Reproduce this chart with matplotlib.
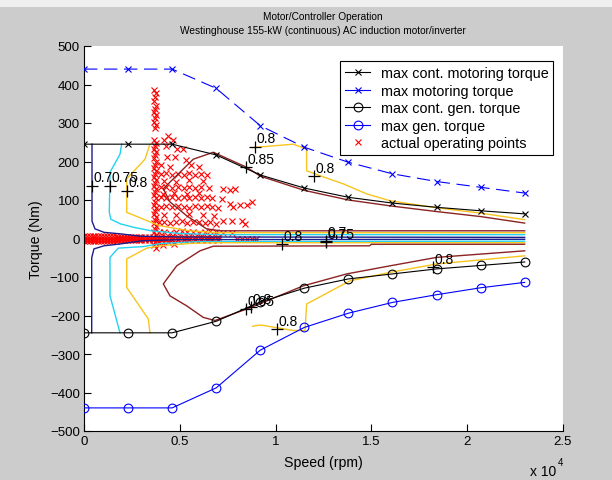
import matplotlib
matplotlib.use("Agg")
import matplotlib.pyplot as plt
from matplotlib.lines import Line2D
from matplotlib.patches import Rectangle

plt.rcParams["font.family"] = ["Liberation Sans", "DejaVu Sans"]

# envelope curves (speed in rpm, torque in Nm)
speed = [0, 2300, 4600, 6900, 9200, 11500, 13800, 16100, 18400, 20700, 23000]
max_cont_motor = [245, 245, 245, 217, 165, 131, 107, 92, 81, 72, 64]
max_motor = [440, 440, 440, 390, 293, 237, 198, 168, 148, 133, 118]
max_cont_gen = [-245, -245, -245, -215, -165, -129, -105, -92, -79, -70, -61]
max_gen = [-440, -440, -440, -388, -290, -231, -194, -166, -146, -128, -114]

# operating points: vertical column near 3700 rpm
col_speed = [3650, 3750, 3700, 3650, 3750, 3700, 3650, 3750, 3700, 3650, 3750, 3700,
             3650, 3750, 3700, 3650, 3750, 3700, 3650, 3750, 3700, 3650, 3750, 3700,
             3650, 3750, 3700, 3650, 3750, 3700, 3650, 3750, 3700, 3650, 3750, 3700,
             3650, 3750, 3700, 3650, 3750, 3700, 3650, 3750, 3700, 3650, 3750]
col_torque = [385, 377, 368, 358, 345, 337, 328, 320, 312, 303, 295, 287,
              256, 248, 240, 232, 224, 216, 208, 200, 192, 184, 176, 168,
              160, 152, 144, 136, 128, 120, 112, 104, 96, 88, 80, 72,
              64, 56, 48, 40, 32, 24, 16, 8, -8, -16, -24]

# operating points: scattered cloud
cloud_speed = [4400, 4150, 4650, 4840, 5180, 4300, 4310, 4750, 5300,
               4000, 4500, 5600, 6000,
               4000, 4300, 4600, 4900, 5200, 5500, 5800, 6100, 6400,
               4200, 4800, 5500, 6200,
               4000, 4300, 4600, 4900, 5200, 5500, 5800, 6100, 6500, 7270, 7600, 7880,
               4100, 4700, 5400, 6000,
               4000, 4300, 4600, 4900, 5200, 5500, 5800, 6100, 6400, 6700, 7190,
               4000, 4300, 4600, 4900, 5200, 5500, 5800, 6100, 6400, 6700, 7000,
               7620, 7780, 8140, 8490, 8750,
               4200, 4800, 5500, 6200, 6800,
               3900, 4200, 4500, 4800, 5100, 5400, 5700, 6000, 6300, 6600, 6900,
               7270, 7710, 8230, 8400,
               3900, 4200, 4500, 4800, 5100, 5400, 5700, 6000, 6300, 6600, 6900,
               7270, 7700,
               8000, 8250, 8500, 8750, 9000,
               3900, 4100, 4400, 4700]
cloud_torque = [267, 255, 255, 232, 232, 240, 211, 211, 205,
                190, 185, 190, 185,
                167, 170, 165, 168, 165, 170, 165, 168, 165,
                150, 148, 152, 150,
                133, 135, 130, 133, 130, 135, 130, 133, 130, 128, 126, 128,
                115, 118, 115, 118,
                107, 105, 108, 105, 107, 104, 107, 105, 108, 104, 103,
                83, 85, 82, 85, 83, 80, 84, 82, 85, 83, 80,
                90, 82, 86, 86, 94,
                62, 60, 63, 60, 58,
                42, 44, 40, 42, 45, 40, 42, 44, 40, 42, 38,
                46, 46, 46, 38,
                17, 18, 15, 17, 19, 16, 18, 15, 17, 19, 16,
                15, 13,
                -2, -1, -2, -1, -2,
                -12, -18, -10, -15]

# operating points: band around zero torque
band_speed = [0, 150, 300, 450, 600, 750, 900, 1050, 1200, 1350, 1500, 1650,
              1800, 1950, 2100, 2250, 2400, 2550, 2700, 2850, 3000, 3200,
              3400, 3600, 3800, 4000, 4300, 4600, 4900, 5200, 5500, 5800,
              6100, 6400, 6700, 7000]
band_torque_hi = [7, 7, 7, 7, 7, 7, 6, 6, 6, 6, 6, 6,
                  5, 5, 5, 5, 5, 5, 5, 5, 5, 5,
                  5, 5, 4, 4, 4, 4, 4, 3, 3, 3,
                  3, 3, 3, 3]
band_torque_mid = [0, 0, 0, 0, 0, 0, 0, 0, 0, 0, 0, 0,
                   0, 0, 0, 0, 0, 0, 0, 0, 0, 0,
                   0, 0, 0, 0, 0, 0, 0, 0, 0, 0,
                   0, 0, 0, 0]
band_torque_lo = [-7, -7, -7, -7, -7, -7, -6, -6, -6, -6, -6, -6,
                  -5, -5, -5, -5, -5, -5, -5, -5, -5, -5,
                  -5, -5, -4, -4, -4, -4, -4, -3, -3, -3,
                  -3, -3, -3, -3]

# efficiency contour lines (speed, torque) and their levels
contours = [
    (0.70, [418, 418, 574, 1044, 1915, 2920, 5000, 23000],
           [245, 45, 25, 16, 12, 6, 4, 3]),
    (0.70, [402, 402, 520, 1040, 1915, 3000, 5000, 23000],
           [-245, -50, -27, -19, -14, -6, -3, -2]),
    (0.75, [1967, 1879, 1357, 1320, 1400, 1900, 2600, 3500, 5000, 7000, 23000],
           [245, 219, 172, 68, 50, 38, 29, 20, 13, 10, 10]),
    (0.75, [1879, 1357, 1357, 1790, 3095, 4000, 6000, 23000],
           [-245, -149, -49, -25, -21, -13, -8, -7]),
    (0.80, [3444, 3184, 2228, 2228, 3705, 3966, 5500, 7000, 23000],
           [245, 206, 155, 68, 38, 33, 20, 15, 15]),
    (0.80, [3444, 3357, 2228, 2228, 3272, 3966, 5500, 7000, 23000],
           [-245, -209, -127, -53, -25, -19, -13, -11, -11]),
    (0.80, [8800, 9013, 10925, 11620, 11620, 12320, 13530, 14750, 15970, 18230, 20670, 23000],
           [236, 237, 245, 232, 176, 163, 142, 116, 98, 81, 66, 49]),
    (0.80, [8800, 9013, 9274, 10925, 11535, 11620, 13880, 15970, 18410, 23000],
           [-228, -226, -225, -239, -239, -170, -110, -88, -66, -45]),
    (0.85, [23000, 20700, 18400, 16100, 13800, 11500, 9200, 8490, 6748, 5705,
            4661, 4139, 4488, 5360, 6400, 7100, 23000],
           [40, 57, 70, 84, 100, 125, 162, 185, 224, 206,
            155, 129, 95, 59, 25, 20, 20]),
    (0.85, [23000, 18410, 15970, 13710, 11445, 8664, 6837, 6226, 5360, 4488,
            4139, 4838, 6054, 6748, 14900, 15000, 23000],
           [-32, -49, -71, -92, -123, -180, -213, -205, -175, -149,
            -118, -71, -32, -20, -19, -15, -15]),
]
level_colors = {0.70: "#1c1c8c", 0.75: "#22d2f2", 0.80: "#f7c51e", 0.85: "#8c2222"}

# contour labels: text, speed, torque
labels = [("0.7", 418, 137), ("0.75", 1357, 137), ("0.8", 2228, 124),
          ("0.8", 8925, 238), ("0.85", 8440, 186), ("0.8", 12000, 162),
          ("0.8", 10317, -14), ("0.7", 12630, -6), ("0.75", 12630, -9),
          ("0.85", 8440, -183), ("0.8", 8700, -178), ("0.8", 10057, -235),
          ("0.8", 18200, -75)]

xticks = [0, 5000, 10000, 15000, 20000, 25000]
xtick_labels = ["0", "0.5", "1", "1.5", "2", "2.5"]
yticks = [-500, -400, -300, -200, -100, 0, 100, 200, 300, 400, 500]

W, H = 612, 481
fig = plt.figure(figsize=(W / 100, H / 100), dpi=100, facecolor="#cccccc")
fig.patches.append(Rectangle((0, 1 - 8 / H), 1, 8 / H, transform=fig.transFigure,
                             facecolor="#f0f0f0", edgecolor="none"))
ax = fig.add_axes([84 / W, 1 - 432 / H, (563 - 84) / W, (432 - 47) / H])

opt = dict(ls="none", marker="x", color="red", ms=5, mew=0.8, zorder=2)
ax.plot(col_speed, col_torque, **opt)
ax.plot(cloud_speed, cloud_torque, **opt)
ax.plot(band_speed, band_torque_hi, **opt)
ax.plot(band_speed, band_torque_mid, **opt)
ax.plot(band_speed, band_torque_lo, **opt)

for lev, xs, ys in contours:
    ax.plot(xs, ys, color=level_colors[lev], lw=1.0, zorder=3)

for txt, x, y in labels:
    ax.plot(x, y, marker="+", color="black", ms=8, mew=0.9, zorder=5)
    ax.annotate(txt, (x, y), xytext=(1, 1), textcoords="offset points",
                ha="left", va="bottom", fontsize=10, zorder=5)

ax.plot(speed, max_cont_motor, color="black", lw=0.8, marker="x", ms=4.5, mew=0.8, zorder=4)
ax.plot(speed, max_motor, color="blue", lw=0.8, marker="x", ms=4.5, mew=0.8,
        dashes=(12, 6), zorder=4)
ax.plot(speed, max_cont_gen, color="black", lw=0.8, marker="o", ms=6.3, mew=0.8,
        mfc="none", zorder=4)
ax.plot(speed, max_gen, color="blue", lw=0.8, marker="o", ms=6.3, mew=0.8,
        mfc="none", zorder=4)

ax.set_xlim(0, 25000)
ax.set_ylim(-500, 500)
ax.set_xticks(xticks)
ax.set_xticklabels(xtick_labels)
ax.set_yticks(yticks)
for s in ["top", "right"]:
    ax.spines[s].set_visible(False)
for s in ["left", "bottom"]:
    ax.spines[s].set_linewidth(0.8)
ax.tick_params(direction="in", length=5, width=0.8, labelsize=9.5, pad=3)

handles = [
    Line2D([], [], color="black", lw=0.8, marker="x", ms=4.5, mew=0.8),
    Line2D([], [], color="blue", lw=0.8, marker="x", ms=4.5, mew=0.8),
    Line2D([], [], color="black", lw=0.8, marker="o", ms=6.3, mew=0.8, mfc="none"),
    Line2D([], [], color="blue", lw=0.8, marker="o", ms=6.3, mew=0.8, mfc="none"),
    Line2D([], [], ls="none", color="red", marker="x", ms=4.5, mew=0.8),
]
names = ["max cont. motoring torque", "max motoring torque",
         "max cont. gen. torque", "max gen. torque", "actual operating points"]
leg = ax.legend(handles, names, loc="upper right", bbox_to_anchor=(0.98, 0.96),
                borderaxespad=0, fontsize=10.4, numpoints=1, handlelength=1.7,
                handletextpad=0.75, labelspacing=0.24, borderpad=0.35,
                fancybox=False, framealpha=1, edgecolor="black")
leg.get_frame().set_linewidth(0.8)
leg.set_zorder(10)

fig.text(323 / W, 1 - 17 / H, "Motor/Controller Operation", ha="center", va="center", fontsize=7.3)
fig.text(323 / W, 1 - 31 / H, "Westinghouse 155-kW (continuous) AC induction motor/inverter",
         ha="center", va="center", fontsize=7.3)
fig.text(323 / W, 1 - 463 / H, "Speed (rpm)", ha="center", va="center", fontsize=10.2)
fig.text(36 / W, 1 - 240 / H, "Torque (Nm)", ha="center", va="center", rotation=90, fontsize=10.2)
fig.text(530 / W, 1 - 472 / H, "x 10", ha="left", va="center", fontsize=10)
fig.text(558 / W, 1 - 463 / H, "4", ha="left", va="center", fontsize=7)

fig.savefig("out.png", dpi=100, facecolor=fig.get_facecolor())
